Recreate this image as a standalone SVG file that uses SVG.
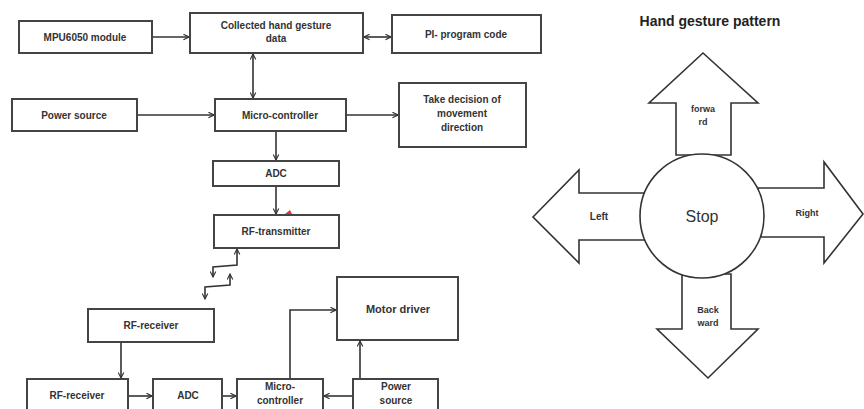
<svg xmlns="http://www.w3.org/2000/svg" width="864" height="409" viewBox="0 0 864 409">
<defs>
<style>
.box{fill:#fff;stroke:#444;stroke-width:2}
.t{font-family:"Liberation Sans",Arial,sans-serif;font-size:10px;font-weight:bold;fill:#333;text-anchor:middle}
.c{fill:none;stroke:#333;stroke-width:1.6}
.sh{fill:#fff;stroke:#333;stroke-width:1.6}
.s{font-family:"Liberation Sans",Arial,sans-serif;fill:#333;text-anchor:middle}
.sb{font-family:"Liberation Sans",Arial,sans-serif;fill:#333;text-anchor:middle;font-weight:bold;font-size:9px}
</style>
<marker id="ah" viewBox="0 0 10 10" refX="9" refY="5" markerWidth="7" markerHeight="7" orient="auto-start-reverse" markerUnits="userSpaceOnUse">
<path d="M1,1 L9,5 L1,9" fill="none" stroke="#333" stroke-width="1.6"/>
</marker>
</defs>
<rect width="864" height="409" fill="#fff"/>

<g id="connectors">
<line class="c" x1="152" y1="37" x2="189" y2="37" marker-end="url(#ah)"/>
<line class="c" x1="364" y1="37" x2="391" y2="37" marker-start="url(#ah)" marker-end="url(#ah)"/>
<line class="c" x1="253" y1="54" x2="253" y2="98" marker-start="url(#ah)" marker-end="url(#ah)"/>
<line class="c" x1="137" y1="115" x2="214" y2="115" marker-end="url(#ah)"/>
<line class="c" x1="346" y1="115" x2="398" y2="115" marker-end="url(#ah)"/>
<line class="c" x1="276" y1="131" x2="276" y2="160" marker-end="url(#ah)"/>
<line class="c" x1="276" y1="186" x2="276" y2="214" marker-end="url(#ah)"/>
<path d="M285,214 L292,214 L290,210 Z" fill="#e33" stroke="none"/>
<polyline class="c" points="237,249 237,265 213,267 213,277" marker-start="url(#ah)" marker-end="url(#ah)"/>
<polyline class="c" points="230,274 230,285 205,287 205,299" marker-start="url(#ah)" marker-end="url(#ah)"/>
<line class="c" x1="121" y1="342" x2="121" y2="378" marker-end="url(#ah)"/>
<line class="c" x1="128" y1="396" x2="152" y2="396" marker-end="url(#ah)"/>
<line class="c" x1="222" y1="396" x2="236" y2="396" marker-end="url(#ah)"/>
<line class="c" x1="353" y1="396" x2="324" y2="396" marker-end="url(#ah)"/>
<polyline class="c" points="290,379 290,310 336,310" marker-end="url(#ah)"/>
<line class="c" x1="360" y1="379" x2="360" y2="341" marker-end="url(#ah)"/>
</g>

<g id="mpu"><rect class="box" x="19" y="21" width="133" height="32"/><text class="t" x="85" y="41">MPU6050 module</text></g>
<g id="collected"><rect class="box" x="190" y="13" width="173" height="40"/><text class="t" x="276" y="29">Collected hand gesture</text><text class="t" x="276" y="42">data</text></g>
<g id="pi"><rect class="box" x="392" y="15" width="149" height="38"/><text class="t" x="466" y="38">PI- program code</text></g>
<g id="power1"><rect class="box" x="12" y="99" width="125" height="32"/><text class="t" x="74" y="119">Power source</text></g>
<g id="micro1"><rect class="box" x="215" y="99" width="131" height="32"/><text class="t" x="280" y="119">Micro-controller</text></g>
<g id="decision"><rect class="box" x="399" y="83" width="127" height="64"/><text class="t" x="462" y="103">Take decision of</text><text class="t" x="462" y="117">movement</text><text class="t" x="462" y="131">direction</text></g>
<g id="adc1"><rect class="box" x="213" y="161" width="126" height="25"/><text class="t" x="276" y="177">ADC</text></g>
<g id="rftx"><rect class="box" x="214" y="215" width="125" height="33"/><text class="t" x="276" y="235">RF-transmitter</text></g>
<g id="rfrx1"><rect class="box" x="88" y="309" width="126" height="33"/><text class="t" x="151" y="329">RF-receiver</text></g>
<g id="rfrx2"><rect class="box" x="27" y="379" width="101" height="36"/><text class="t" x="77" y="399">RF-receiver</text></g>
<g id="adc2"><rect class="box" x="153" y="379" width="69" height="36"/><text class="t" x="188" y="399">ADC</text></g>
<g id="micro2"><rect class="box" x="237" y="379" width="86" height="36"/><text class="t" x="280" y="390">Micro-</text><text class="t" x="280" y="404">controller</text></g>
<g id="power2"><rect class="box" x="353" y="379" width="85" height="36"/><text class="t" x="396" y="390">Power</text><text class="t" x="396" y="404">source</text></g>
<g id="motor"><rect class="box" x="337" y="277" width="121" height="63"/><text class="t" x="398" y="313" style="font-size:11px">Motor driver</text></g>

<g id="pattern">
<text class="s" x="710" y="26" style="font-size:14px;font-weight:bold;fill:#222">Hand gesture pattern</text>
<g id="forward"><polygon class="sh" points="703,53 758,103 731,103 731,155 676,155 676,103 649,103"/><text class="sb" x="703" y="112">forwa</text><text class="sb" x="703" y="125">rd</text></g>
<g id="left"><polygon class="sh" points="533,217 579,170 579,193 645,193 645,240 579,240 579,263"/><text class="sb" x="599" y="220" style="font-size:10px">Left</text></g>
<g id="right"><polygon class="sh" points="863,214 824,162 824,188 758,188 758,237 824,237 824,263"/><text class="sb" x="807" y="216">Right</text></g>
<g id="backward"><polygon class="sh" points="682,274 731,274 731,329 758,329 708,378 657,329 682,329"/><text class="sb" x="708" y="313">Back</text><text class="sb" x="708" y="326">ward</text></g>
<g id="stop"><circle class="sh" cx="702" cy="216" r="62"/><text class="s" x="702" y="222" style="font-size:16px">Stop</text></g>
</g>
</svg>
